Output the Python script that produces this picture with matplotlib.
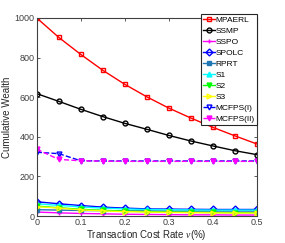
import matplotlib
matplotlib.use("Agg")
import matplotlib.pyplot as plt

plt.rcParams['font.family'] = ['Liberation Sans', 'DejaVu Sans']
plt.rcParams['mathtext.fontset'] = 'custom'
plt.rcParams['mathtext.it'] = 'Liberation Serif:italic'

x = [0, 0.05, 0.1, 0.15, 0.2, 0.25, 0.3, 0.35, 0.4, 0.45, 0.5]
mpaerl = [1000, 902, 816, 736, 665, 602, 545, 495, 448, 405, 364]
ssmp = [618, 579, 539, 502, 468, 438, 407, 379, 354, 330, 310]
sspo = [20, 16, 13, 11, 9, 8, 7, 6, 6, 5, 5]
spolc = [72, 62, 53, 45, 40, 36, 35, 34, 33, 33, 33]
rprt = [32, 30, 28, 27, 26, 26, 25, 25, 25, 25, 25]
s1 = [62, 54, 46, 40, 36, 33, 32, 31, 30, 30, 30]
s2 = [50, 42, 34, 29, 25, 22, 20, 19, 18, 17, 17]
s3 = [47, 40, 31, 26, 22, 20, 18, 17, 16, 15, 15]
mcfps1 = [322, 315, 279, 278, 278, 278, 278, 278, 278, 278, 278]
mcfps2 = [337, 286, 279, 277, 276, 276, 276, 276, 276, 276, 276]

series = [
    ("MPAERL", mpaerl, "#ff0000", "s", "-", "none"),
    ("SSMP", ssmp, "#000000", "o", "-", "none"),
    ("SSPO", sspo, "#ff00ff", "+", "-", "none"),
    ("SPOLC", spolc, "#0000ff", "D", "-", "none"),
    ("RPRT", rprt, "#1f77b4", "s", "-", None),
    ("S1", s1, "#00ffff", "^", "-", None),
    ("S2", s2, "#00ff00", "v", "-", None),
    ("S3", s3, "#ffff00", ">", "-", "none"),
    ("MCFPS(I)", mcfps1, "#0000ff", "v", "--", "none"),
    ("MCFPS(II)", mcfps2, "#ff00ff", "v", "--", None),
]

fig = plt.figure(figsize=(2.85, 2.43), dpi=100)
ax = fig.add_axes([0.129, 0.111, 0.772, 0.815])
for name, y, c, m, ls, mfc in series:
    kw = dict(color=c, marker=m, linestyle=ls, linewidth=1.0, markersize=3.5, label=name)
    if mfc == "none":
        kw['markerfacecolor'] = 'none'
    ax.plot(x, y, **kw)

ax.set_xlim(0, 0.5)
ax.set_ylim(0, 1000)
ax.set_xticks([0, 0.1, 0.2, 0.3, 0.4, 0.5])
ax.set_xticklabels(["0", "0.1", "0.2", "0.3", "0.4", "0.5"])
ax.set_yticks([0, 200, 400, 600, 800, 1000])
ax.tick_params(direction='in', top=True, right=True, labelsize=6.5, length=2.5,
               colors='#404040', width=0.6, pad=1.5)
for s in ax.spines.values():
    s.set_color('#404040')
    s.set_linewidth(0.8)
ax.set_xlabel(r"Transaction Cost Rate $\nu$(%)", fontsize=7, color='#262626', labelpad=0.5)
ax.set_ylabel("Cumulative Wealth", fontsize=7, color='#262626', labelpad=2)
leg = ax.legend(loc='upper right', bbox_to_anchor=(1.0, 1.02), fontsize=6,
                handlelength=1.4, handletextpad=0.1, borderpad=0.25, labelspacing=0.38,
                fancybox=False, framealpha=1, borderaxespad=0)
leg.get_frame().set_edgecolor('#262626')
leg.get_frame().set_linewidth(0.8)
fig.savefig("out.png", dpi=100)
